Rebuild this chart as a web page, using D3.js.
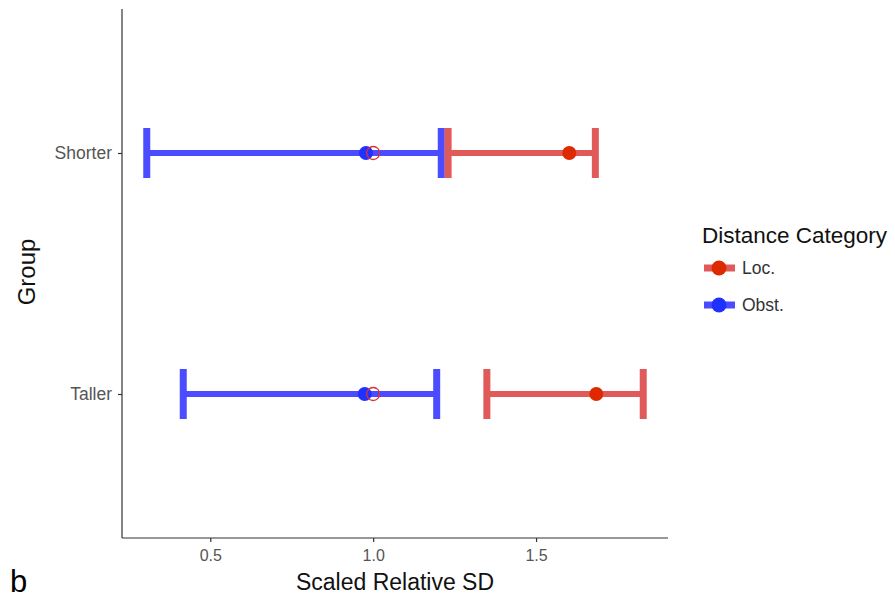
<!DOCTYPE html>
<html>
<head>
<meta charset="utf-8">
<script src="https://cdn.jsdelivr.net/npm/d3@7"></script>
<style>
  body { margin: 0; background: white; }
  svg { font-family: "Liberation Sans", Arial, sans-serif; }
</style>
</head>
<body>
<div id="viz-container"></div>
<script>
// data
let groups = ["Shorter", "Taller"];
let categories = ["Loc.", "Obst."];
// per category, in the order of groups
let locMean = [1.602, 1.685];
let locLow = [1.230, 1.349];
let locHigh = [1.682, 1.829];
let obstMean = [0.978, 0.974];
let obstLow = [0.305, 0.417];
let obstHigh = [1.209, 1.195];
let refValue = [1.0, 1.0];
let xTicks = [0.5, 1.0, 1.5];

let barColor = {"Loc.": "#e05a5a", "Obst.": "#4b4bff"};
let dotColor = {"Loc.": "#dd2a00", "Obst.": "#2030ff"};

let viz = d3.select("#viz-container")
              .append("svg")
                .attr("width", 895)
                .attr("height", 598)
;

let x = d3.scaleLinear().domain([0.229, 1.905]).range([122, 668]);
let y = d3.scalePoint().domain(groups).range([153, 394]);

// rows for drawing
let rows = [];
groups.forEach(function(g, i){
    rows.push({group: g, cat: "Obst.", mean: obstMean[i], low: obstLow[i], high: obstHigh[i]});
    rows.push({group: g, cat: "Loc.", mean: locMean[i], low: locLow[i], high: locHigh[i]});
});

// axes
let xAxis = viz.append("g")
    .attr("transform", "translate(0,538)")
    .call(d3.axisBottom(x).tickValues(xTicks).tickFormat(d3.format(".1f")).tickSizeOuter(0).tickSize(4).tickPadding(8));
let yAxis = viz.append("g")
    .attr("transform", "translate(122,0)")
    .call(d3.axisLeft(y).tickSizeOuter(0).tickSize(4).tickPadding(6));

[xAxis, yAxis].forEach(function(a){
    a.select(".domain").attr("stroke", "#333").attr("stroke-width", 1.2);
    a.selectAll(".tick line").attr("stroke", "#333").attr("stroke-width", 1.2);
    a.selectAll(".tick text").attr("fill", "#555");
});
xAxis.selectAll(".tick text").style("font-size", "16px");
yAxis.selectAll(".tick text").style("font-size", "17.5px");
// axis lines span the whole panel
yAxis.select(".domain").attr("d", "M0,9V538");
xAxis.select(".domain").attr("d", "M122,0H668");

// error bars
let bars = viz.selectAll(".bar").data(rows).enter().append("g").attr("class", "bar");
bars.append("line")
    .attr("x1", d => x(d.low)).attr("x2", d => x(d.high))
    .attr("y1", d => y(d.group)).attr("y2", d => y(d.group))
    .attr("stroke", d => barColor[d.cat]).attr("stroke-width", 6);
bars.append("line")
    .attr("x1", d => x(d.low)).attr("x2", d => x(d.low))
    .attr("y1", d => y(d.group) - 25).attr("y2", d => y(d.group) + 25)
    .attr("stroke", d => barColor[d.cat]).attr("stroke-width", 7);
bars.append("line")
    .attr("x1", d => x(d.high)).attr("x2", d => x(d.high))
    .attr("y1", d => y(d.group) - 25).attr("y2", d => y(d.group) + 25)
    .attr("stroke", d => barColor[d.cat]).attr("stroke-width", 7);
bars.append("circle")
    .attr("cx", d => x(d.mean)).attr("cy", d => y(d.group))
    .attr("r", 7)
    .attr("fill", d => dotColor[d.cat]);

// reference open circles
viz.selectAll(".ref").data(groups).enter().append("circle")
    .attr("class", "ref")
    .attr("cx", (d, i) => x(refValue[i])).attr("cy", d => y(d))
    .attr("r", 6.5)
    .attr("fill", "none")
    .attr("stroke", "#e03030").attr("stroke-width", 1.3);

// axis titles
viz.append("text").text("Scaled Relative SD")
    .attr("x", 395).attr("y", 590)
    .attr("text-anchor", "middle").style("font-size", "23px").attr("fill", "#111");
viz.append("text").text("Group")
    .attr("transform", "translate(35,272) rotate(-90)")
    .attr("text-anchor", "middle").style("font-size", "24px").attr("fill", "#111");
viz.append("text").text("b")
    .attr("x", 10).attr("y", 592)
    .style("font-size", "31px").attr("fill", "#000");

// legend
let legend = viz.append("g").attr("transform", "translate(702,0)");
legend.append("text").text("Distance Category")
    .attr("x", 0).attr("y", 243).style("font-size", "22.5px").attr("fill", "#111");
let keys = legend.selectAll(".key").data(categories).enter().append("g")
    .attr("class", "key")
    .attr("transform", (d, i) => "translate(0," + (268 + i * 37) + ")");
keys.append("line")
    .attr("x1", 2).attr("x2", 33).attr("y1", 0).attr("y2", 0)
    .attr("stroke", d => barColor[d]).attr("stroke-width", 7);
keys.append("circle")
    .attr("cx", 17).attr("cy", 0).attr("r", 7.5)
    .attr("fill", d => dotColor[d]);
keys.append("text").text(d => d)
    .attr("x", 40).attr("y", 6).style("font-size", "17.5px").attr("fill", "#333");
</script>
</body>
</html>
